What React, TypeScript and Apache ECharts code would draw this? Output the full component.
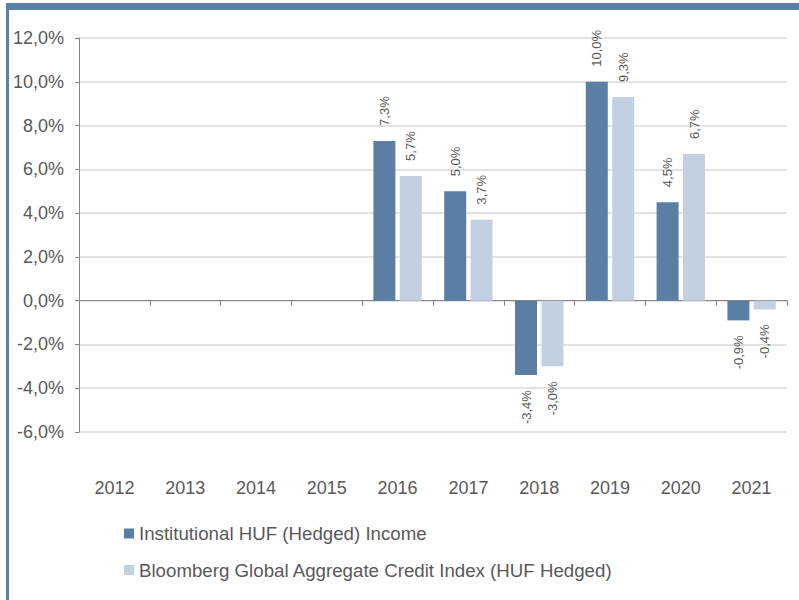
import React, { useEffect, useRef } from "react";
import * as echarts from "echarts";

const categories = ["2012", "2013", "2014", "2015", "2016", "2017", "2018", "2019", "2020", "2021"];
const institutional: (number | null)[] = [null, null, null, null, 7.3, 5.0, -3.4, 10.0, 4.5, -0.9];
const bloomberg: (number | null)[] = [null, null, null, null, 5.7, 3.7, -3.0, 9.3, 6.7, -0.4];
const seriesNames = [
  "Institutional HUF (Hedged) Income",
  "Bloomberg Global Aggregate Credit Index (HUF Hedged)",
];

const fmt = (v: number) => v.toFixed(1).replace(".", ",") + "%";
const textColor = "#595959";
const font = "Liberation Sans, Arial, sans-serif";

function toData(arr: (number | null)[]) {
  return arr.map((v) => {
    if (v === null) return "-";
    if (v < 0) {
      return {
        value: v,
        label: { position: "bottom", align: "right" },
      };
    }
    return { value: v };
  });
}

export default function App() {
  const ref = useRef<HTMLDivElement>(null);
  useEffect(() => {
    if (!ref.current) return;
    const chart = echarts.init(ref.current, null, { renderer: "svg" });
    const labelCfg = {
      show: true,
      position: "top",
      rotate: 90,
      align: "left",
      verticalAlign: "middle",
      distance: 15,
      color: textColor,
      fontSize: 13,
      fontFamily: font,
      formatter: (p: any) => fmt(p.value),
    };
    chart.setOption({
      animation: false,
      backgroundColor: "#ffffff",
      textStyle: { fontFamily: font },
      graphic: [
        { type: "rect", shape: { x: 6, y: 3, width: 793, height: 7 }, style: { fill: "#5b80a6" }, z: 100 },
        { type: "rect", shape: { x: 6, y: 3, width: 3, height: 597 }, style: { fill: "#5b80a6" }, z: 100 },
      ],
      grid: { left: 79, right: 12, top: 38, bottom: 168, containLabel: false },
      legend: {
        orient: "vertical",
        left: 119,
        top: 519,
        itemWidth: 10,
        itemHeight: 10,
        itemGap: 17.5,
        icon: "rect",
        textStyle: { color: textColor, fontSize: 18.7, fontFamily: font },
        data: seriesNames,
      },
      xAxis: [
        {
          type: "category",
          data: categories,
          position: "bottom",
          axisLine: { show: false, onZero: false },
          axisTick: { show: false },
          axisLabel: { color: textColor, fontSize: 18, margin: 47, fontFamily: font },
          splitLine: { show: false },
        },
        {
          type: "category",
          data: categories,
          position: "top",
          axisLine: { show: true, onZero: true, lineStyle: { color: "#868686", width: 1 } },
          axisTick: { show: true, inside: true, length: 5, lineStyle: { color: "#868686" } },
          axisLabel: { show: false },
          splitLine: { show: false },
        },
      ],
      yAxis: {
        type: "value",
        min: -6,
        max: 12,
        interval: 2,
        axisLine: { show: true, lineStyle: { color: "#868686" } },
        axisTick: { show: true, length: 4, lineStyle: { color: "#868686" } },
        axisLabel: { color: textColor, fontSize: 18, margin: 15, fontFamily: font, formatter: (v: number) => fmt(v) },
        splitLine: { show: true, lineStyle: { color: "#d9d9d9", width: 1.5 } },
      },
      series: [
        {
          name: seriesNames[0],
          type: "bar",
          xAxisIndex: 0,
          barWidth: 22,
          barGap: "20%",
          itemStyle: { color: "#5b7fa4" },
          label: labelCfg,
          data: toData(institutional),
        },
        {
          name: seriesNames[1],
          type: "bar",
          xAxisIndex: 0,
          barWidth: 22,
          barGap: "20%",
          itemStyle: { color: "#c3d0e2" },
          label: labelCfg,
          data: toData(bloomberg),
        },
      ],
    });
    return () => chart.dispose();
  }, []);
  return (
    <div
      ref={ref}
      style={{ position: "fixed", left: 0, top: 0, width: 799, height: 600 }}
    />
  );
}
